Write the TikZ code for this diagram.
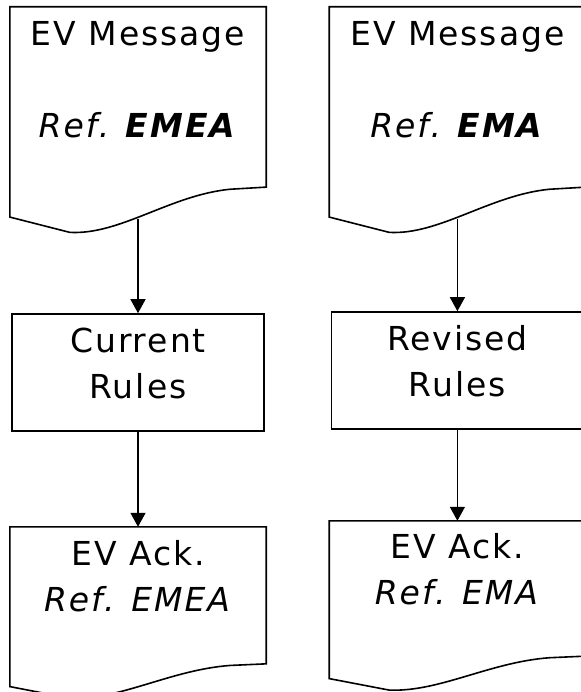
\documentclass[tikz,border=0pt]{standalone}
\usepackage{fontspec}
\setmainfont{DejaVu Sans}[LetterSpace=6]
\usetikzlibrary{arrows.meta,positioning,calc}

\begin{document}
\begin{tikzpicture}[
  x=1pt, y=-1pt,
  box/.style={rectangle, inner sep=0pt, align=center, font=\fontsize{33}{46}\selectfont},
  doc/.style={box, minimum width=256pt, text depth=66.5pt},
  ack/.style={doc, text depth=63pt},
  rules/.style={box, draw, line width=1.6pt, minimum width=252pt, minimum height=117pt, text depth=19pt},
  outline/.style={draw, line width=1.6pt},
  arr/.style={-{Triangle[width=15pt,length=14pt]}, line width=1.4pt},
]
\useasboundingbox (0,0) rectangle (580,692);
\node[doc, minimum height=212pt] (msgA) at (138,113) {EV Message\\[46pt]\textit{Ref. \textbf{EMEA}}};
\node[doc, minimum height=212pt, right=63pt of msgA] (msgB) {EV Message\\[46pt]\textit{Ref. \textbf{EMA}}};
\node[rules, below=94pt of msgA] (ruleA) {Current\\Rules};
\node[rules, below=92pt of msgB] (ruleB) {Revised\\Rules};
\node[ack, minimum height=161pt, below=95pt of ruleA] (ackA) {EV Ack.\\\textit{Ref. EMEA}};
\node[ack, minimum height=159pt, below=91pt of ruleB] (ackB) {EV Ack.\\\textit{Ref. EMA}};
% document outlines, drawn in each node's own unit box
\foreach \sh in {msgA,msgB,ackA,ackB}{
  \begin{scope}[shift={(\sh.north west)}, x={($(\sh.north east)-(\sh.north west)$)}, y={($(\sh.south west)-(\sh.north west)$)}]
    \draw[outline] (0,0) -- (1,0) -- (1,0.849) -- (0.859,0.859)
      .. controls (0.625,0.887) and (0.430,1.075) .. (0.234,1.062) -- (0,0.990) -- cycle;
  \end{scope}
}
\draw[arr] (msgA) -- (ruleA);
\draw[arr] (ruleA) -- (ackA);
\draw[arr] (msgB) -- (ruleB);
\draw[arr] (ruleB) -- (ackB);
\end{tikzpicture}
\end{document}
